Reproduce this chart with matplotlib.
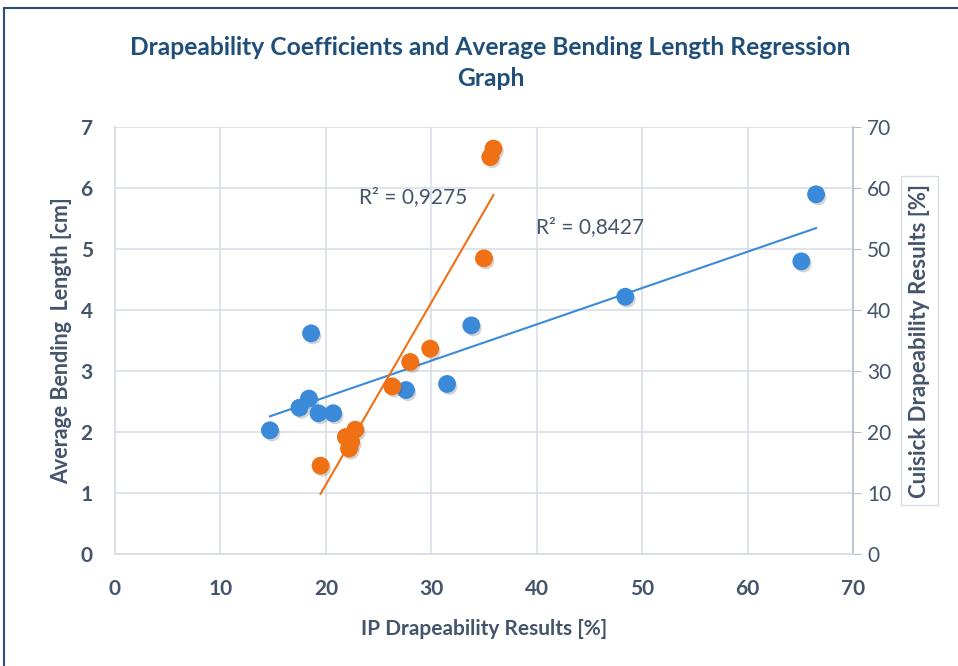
import numpy as np
import matplotlib
matplotlib.use('Agg')
import matplotlib.pyplot as plt
import matplotlib.patheffects as pe
from matplotlib.patches import Rectangle

# IP drapeability vs average bending length (left axis)
ip_mavi = [14.7, 17.5, 18.4, 18.6, 19.3, 20.7, 27.6, 31.5, 33.8, 48.4, 65.1, 66.5]
egilme = [2.03, 2.40, 2.55, 3.62, 2.31, 2.31, 2.69, 2.79, 3.75, 4.22, 4.80, 5.90]

# IP drapeability vs Cusick drapeability (right axis)
ip_turuncu = [19.5, 21.9, 22.2, 22.4, 22.8, 26.3, 28.0, 29.9, 35.0, 35.6, 35.9]
cusick = [14.5, 19.2, 17.3, 18.4, 20.4, 27.5, 31.5, 33.7, 48.5, 65.1, 66.5]

r2_mavi = "R² = 0,8427"
r2_turuncu = "R² = 0,9275"

MAVI = '#3b8ad9'
TURUNCU = '#f07014'
YAZI = '#44546a'
BASLIK = '#1f4e79'
IZGARA = '#d9dee8'

plt.rcParams['font.family'] = ['Lato', 'DejaVu Sans']

fig = plt.figure(figsize=(9.58, 6.66), dpi=100)
ax = fig.add_axes([0.120, 0.168, 0.7704, 0.641])
ax2 = ax.twinx()

# cerceve (sag ve alt kenar goruntude kesik)
fig.patches.append(Rectangle((4 / 958, -0.1), 1.2, (666 - 8) / 666 + 0.1,
                             transform=fig.transFigure, fill=False,
                             edgecolor='#2f4d7a', linewidth=1.5))

golge = [pe.SimplePatchShadow(offset=(1.5, -2), alpha=0.25, shadow_rgbFace='#555555'), pe.Normal()]

ax.scatter(ip_mavi, egilme, s=140, color=MAVI, zorder=3, path_effects=golge)
ax2.scatter(ip_turuncu, cusick, s=140, color=TURUNCU, zorder=3, path_effects=golge)

# dogrusal trend cizgileri
k1 = np.polyfit(ip_mavi, egilme, 1)
xs1 = np.array([min(ip_mavi), max(ip_mavi)])
ax.plot(xs1, np.polyval(k1, xs1), color=MAVI, lw=1.5, zorder=4)
k2 = np.polyfit(ip_turuncu, cusick, 1)
xs2 = np.array([min(ip_turuncu), max(ip_turuncu)])
ax2.plot(xs2, np.polyval(k2, xs2), color=TURUNCU, lw=1.5, zorder=4)

ax.set_xlim(0, 70)
ax.set_ylim(0, 7)
ax2.set_ylim(0, 70)
ax.set_xticks(range(0, 71, 10))
ax.set_yticks(range(0, 8))
ax2.set_yticks(range(0, 71, 10))
ax.grid(True, color=IZGARA, lw=1.2)
ax.set_axisbelow(True)

for a in (ax, ax2):
    for k in a.spines.values():
        k.set_color(IZGARA)
        k.set_linewidth(1.2)
    a.spines['top'].set_visible(False)
ax2.spines['right'].set_color('#b4bfd0')

ax.tick_params(axis='x', length=0, labelsize=15, labelcolor=YAZI, pad=18)
ax.tick_params(axis='y', length=0, labelsize=15, labelcolor=YAZI, pad=16)
for t in ax.get_xticklabels() + ax.get_yticklabels():
    t.set_fontweight('bold')
ax2.tick_params(axis='y', length=6, color='#b4bfd0', labelsize=15, labelcolor=YAZI, pad=4)

ax.set_xlabel('IP Drapeability Results [%]', fontsize=15, fontweight='bold', color=YAZI, labelpad=14)
ax.set_ylabel('Average Bending  Length [cm]', fontsize=15.5, fontweight='bold', color=YAZI, labelpad=6)
ax2.set_ylabel('Cuisick Drapeability Results [%]', fontsize=16, fontweight='bold', color=YAZI, labelpad=13,
               bbox=dict(boxstyle='square,pad=0.35', fc='white', ec='#d9dee8'))

ax.text(0.331, 0.822, r2_turuncu, transform=ax.transAxes, fontsize=15, color=YAZI, va='baseline', zorder=5)
ax.text(0.570, 0.752, r2_mavi, transform=ax.transAxes, fontsize=15, color=YAZI, va='baseline', zorder=5)

fig.text(0.512, 0.918, 'Drapeability Coefficients and Average Bending Length Regression', ha='center',
         fontsize=17.7, fontweight='bold', color=BASLIK)
fig.text(0.512, 0.871, 'Graph', ha='center', fontsize=17.7, fontweight='bold', color=BASLIK)

fig.savefig('out.png', dpi=100)
plt.close(fig)
